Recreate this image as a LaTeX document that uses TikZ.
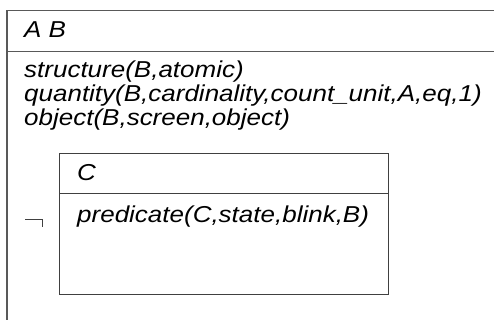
\documentclass[tikz,border=0pt]{standalone}
\usepackage{fontspec}
\setmainfont{Liberation Sans}
\newcommand{\widetxt}[1]{\scalebox{1.13}[1]{#1}}
\begin{document}
\begin{tikzpicture}[x=1pt,y=-1pt,
  outerline/.style={draw=black!65,line width=1.4pt},
  innerline/.style={draw=black!75,line width=1pt},
  txt/.style={anchor=base west,inner sep=0pt,font=\fontsize{23}{27}\selectfont\itshape}]
\useasboundingbox (0,0) rectangle (494,320);
\clip (0,0) rectangle (494,320);
% outer box
\coordinate (otl) at (7,10.7);
\coordinate (otr) at (500,10.7);
\coordinate (obl) at (7,330);
\coordinate (ohl) at (7,51.7);
\coordinate (ohr) at (500,51.7);
\draw[outerline] (obl) -- (otl) -- (otr);
\draw[outerline] (ohl) -- (ohr);
\node[txt] (ab) at (24,37.3) {\widetxt{A B}};
\node[txt] (s1) at (24,78) {\widetxt{structure(B,atomic)}};
\node[txt] (s2) at (24,102) {\widetxt{quantity(B,cardinality,count\_unit,A,eq,1)}};
\node[txt] (s3) at (24,126) {\widetxt{object(B,screen,object)}};
% negation
\coordinate (n1) at (25,219.3);
\coordinate (n2) at (42,219.3);
\coordinate (n3) at (42,226.7);
\draw[innerline] (n1) -- (n2) -- (n3);
% inner box
\node[innerline,rectangle,minimum width=328.4pt,minimum height=141.3pt,anchor=north west,inner sep=0pt] (inner) at (59.3,152.7) {};
\coordinate (ihl) at (59.3,193.3);
\coordinate (ihr) at (387.7,193.3);
\draw[innerline] (ihl) -- (ihr);
\node[txt] (c) at (77,180) {\widetxt{C}};
\node[txt] (p1) at (77,222) {\widetxt{predicate(C,state,blink,B)}};
\end{tikzpicture}
\end{document}
